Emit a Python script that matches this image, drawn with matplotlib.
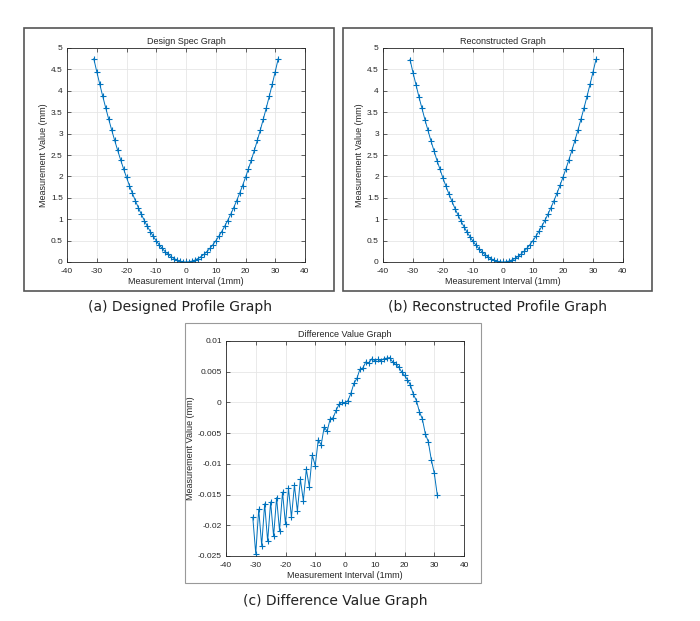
import numpy as np
import matplotlib
matplotlib.use("Agg")
import matplotlib.pyplot as plt
from matplotlib.patches import Rectangle
from matplotlib.ticker import FormatStrFormatter

plt.rcParams['axes.unicode_minus'] = False

# measurement positions (mm)
pos = list(range(-31, 32))

# design profile, one half, x = 0..31
half = [0.000, 0.005, 0.020, 0.045, 0.079, 0.124, 0.178, 0.242, 0.316, 0.400,
        0.494, 0.598, 0.712, 0.835, 0.969, 1.112, 1.265, 1.429, 1.602, 1.784,
        1.977, 2.180, 2.392, 2.615, 2.847, 3.089, 3.342, 3.604, 3.875, 4.157,
        4.449, 4.750]
design = half[:0:-1] + half

# difference (reconstructed - design)
diff = [-0.0187, -0.0246, -0.0174, -0.0233, -0.0165, -0.0226, -0.0162, -0.0218,
        -0.0155, -0.0209, -0.0146, -0.0198, -0.0140, -0.0187, -0.0135, -0.0177,
        -0.0125, -0.0160, -0.0109, -0.0137, -0.0086, -0.0103, -0.0061, -0.0069,
        -0.0040, -0.0047, -0.0027, -0.0025, -0.0013, -0.0003, 0.0000, -0.0001,
        0.0003, 0.0015, 0.0031, 0.0039, 0.0054, 0.0056, 0.0066, 0.0064,
        0.0071, 0.0068, 0.0070, 0.0068, 0.0071, 0.0072, 0.0073, 0.0066,
        0.0062, 0.0058, 0.0050, 0.0044, 0.0037, 0.0028, 0.0013, 0.0003,
        -0.0015, -0.0027, -0.0051, -0.0064, -0.0093, -0.0115, -0.0150]

reconstructed = list(np.array(design) + np.array(diff))

BLUE = '#0072BD'
FONT = 'Liberation Sans'

W, H = 700, 621
fig = plt.figure(figsize=(7, 6.21), dpi=100)


def px_axes(x0, y0, x1, y1):
    return fig.add_axes([x0 / W, 1 - y1 / H, (x1 - x0) / W, (y1 - y0) / H])


def frame(x0, y0, x1, y1, col='#555555', lw=1.2):
    fig.patches.append(Rectangle((x0 / W, 1 - y1 / H), (x1 - x0) / W, (y1 - y0) / H,
                                 transform=fig.transFigure, fill=False,
                                 edgecolor=col, lw=lw))


def matlab_plot(ax, x, y, title, ylim, yticks):
    ax.plot(x, y, '-', color=BLUE, lw=0.7, marker='+', ms=5, mew=0.8)
    ax.set_xlim(-40, 40)
    ax.set_ylim(*ylim)
    ax.set_xticks(range(-40, 41, 10))
    ax.set_yticks(yticks)
    ax.yaxis.set_major_formatter(FormatStrFormatter('%g'))
    ax.grid(True, color='#e6e6e6', lw=0.6)
    ax.set_axisbelow(True)
    ax.tick_params(direction='in', top=True, right=True, length=3, width=0.5,
                   labelsize=6, colors='#262626')
    ax.tick_params(axis='x', pad=4)
    ax.tick_params(axis='y', pad=3)
    for s in ax.spines.values():
        s.set_linewidth(0.6)
        s.set_color('#262626')
    ax.set_title(title, fontsize=6.5, family=FONT, color='#262626', pad=3)
    ax.set_xlabel('Measurement Interval (1mm)', fontsize=6.5, family=FONT,
                  color='#262626', labelpad=2)
    ax.set_ylabel('Measurement Value (mm)', fontsize=6.5, family=FONT,
                  color='#262626', labelpad=2)
    for lab in ax.get_xticklabels() + ax.get_yticklabels():
        lab.set_family(FONT)


frame(24, 28, 334, 291)
frame(343, 28, 652, 291)
frame(185, 323, 481, 583, col='#999999', lw=0.8)

ax1 = px_axes(67, 48, 305, 262)
matlab_plot(ax1, pos, design, 'Design Spec Graph', (0, 5), np.arange(0, 5.01, 0.5))

ax2 = px_axes(383, 48, 623, 262)
matlab_plot(ax2, pos, reconstructed, 'Reconstructed Graph', (0, 5), np.arange(0, 5.01, 0.5))

ax3 = px_axes(226, 341, 464, 556)
matlab_plot(ax3, pos, diff, 'Difference Value Graph', (-0.025, 0.01),
            [-0.025, -0.02, -0.015, -0.01, -0.005, 0, 0.005, 0.01])

cap = dict(fontsize=10, family='DejaVu Sans', ha='center', va='center', color='#222222')
fig.text(180 / W, 1 - 307 / H, '(a) Designed Profile Graph', **cap)
fig.text(497 / W, 1 - 307 / H, '(b) Reconstructed Profile Graph', **cap)
fig.text(335 / W, 1 - 601 / H, '(c) Difference Value Graph', **cap)

fig.savefig('out.png', dpi=100)
